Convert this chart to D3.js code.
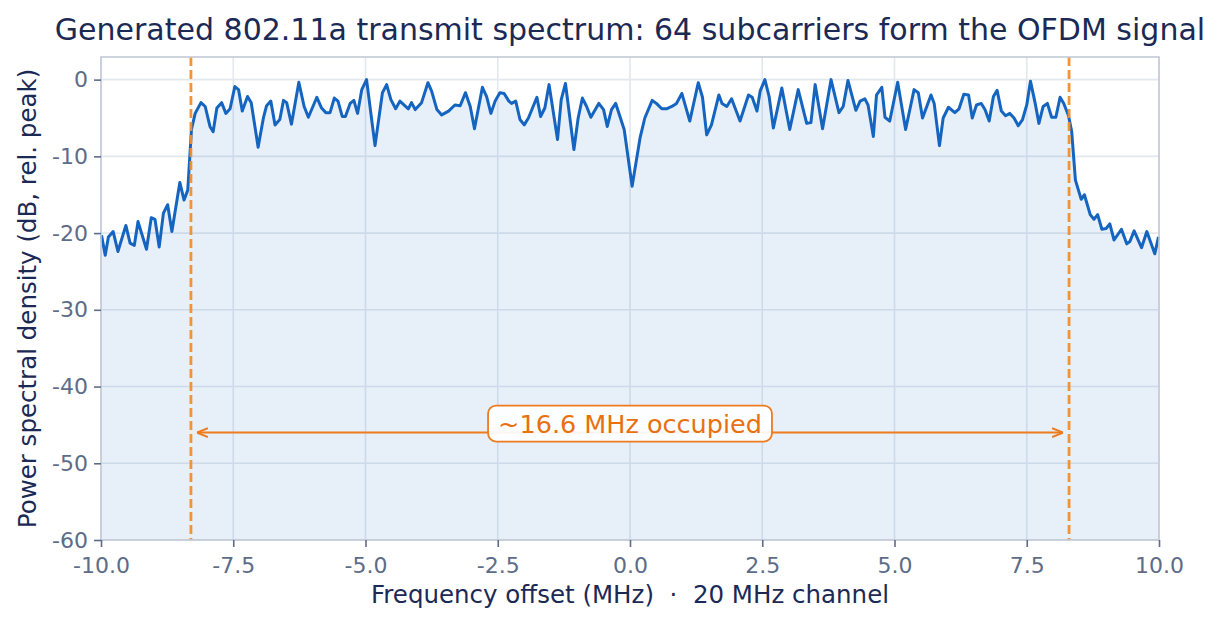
<!DOCTYPE html>
<html><head><meta charset="utf-8">
<script src="https://cdn.jsdelivr.net/npm/d3@7"></script>
<style>
html,body{margin:0;padding:0;background:#fff;}
svg{display:block;font-family:"DejaVu Sans",sans-serif;}
text{white-space:pre;}
</style></head>
<body><svg id="c" width="1222" height="624"></svg>
<script>
const freqMHz = [-9.99,-9.92,-9.86,-9.77,-9.68,-9.53,-9.45,-9.37,-9.30,-9.14,-9.05,-8.98,-8.90,-8.82,-8.74,-8.66,-8.51,-8.43,-8.36,-8.29,-8.22,-8.11,-8.03,-7.94,-7.88,-7.81,-7.72,-7.64,-7.56,-7.47,-7.40,-7.33,-7.23,-7.16,-7.03,-6.93,-6.87,-6.79,-6.71,-6.62,-6.55,-6.49,-6.40,-6.26,-6.16,-6.08,-5.92,-5.83,-5.75,-5.67,-5.59,-5.52,-5.44,-5.38,-5.29,-5.22,-5.15,-5.07,-4.98,-4.82,-4.68,-4.60,-4.52,-4.43,-4.35,-4.19,-4.13,-4.06,-3.94,-3.82,-3.75,-3.65,-3.56,-3.43,-3.31,-3.21,-3.11,-3.02,-2.94,-2.79,-2.71,-2.63,-2.55,-2.46,-2.38,-2.29,-2.24,-2.16,-2.08,-2.00,-1.92,-1.76,-1.69,-1.61,-1.53,-1.37,-1.30,-1.22,-1.06,-0.98,-0.90,-0.82,-0.74,-0.59,-0.50,-0.43,-0.35,-0.27,-0.11,0.04,0.19,0.28,0.42,0.50,0.60,0.69,0.79,0.88,0.98,1.13,1.29,1.37,1.45,1.54,1.68,1.74,1.83,1.92,2.08,2.24,2.31,2.40,2.46,2.55,2.63,2.71,2.87,3.02,3.18,3.34,3.42,3.50,3.64,3.80,3.95,4.03,4.12,4.27,4.35,4.44,4.50,4.60,4.66,4.76,4.82,4.91,5.06,5.21,5.37,5.45,5.53,5.69,5.75,5.85,5.92,6.02,6.14,6.22,6.31,6.40,6.47,6.55,6.64,6.71,6.79,6.87,6.94,7.02,7.10,7.18,7.26,7.34,7.42,7.50,7.57,7.66,7.73,7.81,7.89,7.97,8.05,8.13,8.20,8.29,8.35,8.42,8.53,8.59,8.70,8.77,8.84,8.92,9.00,9.07,9.15,9.29,9.39,9.45,9.53,9.67,9.77,9.92,9.99];
const psdDb = [-20.3,-22.9,-20.5,-19.8,-22.4,-19.0,-21.3,-21.6,-18.5,-22.1,-18.0,-18.2,-21.8,-17.4,-16.3,-19.8,-13.4,-15.7,-14.4,-6.5,-4.4,-3.0,-3.5,-6.1,-6.8,-3.7,-3.0,-4.4,-3.8,-0.9,-1.3,-4.1,-2.2,-3.0,-8.8,-5.0,-3.4,-2.8,-5.9,-5.2,-2.7,-3.0,-5.8,-0.35,-3.5,-4.9,-2.3,-3.7,-4.3,-4.3,-2.4,-2.8,-4.8,-4.8,-3.1,-2.7,-4.4,-1.3,0,-8.6,-1.7,-0.65,-2.6,-3.8,-2.8,-3.8,-3.0,-3.9,-3.0,-0.4,-1.5,-3.9,-4.6,-4.1,-3.3,-3.4,-1.7,-3.5,-6.4,-1.0,-2.2,-4.4,-2.8,-1.7,-1.8,-2.8,-3.1,-2.8,-5.2,-5.9,-5.0,-2.3,-4.8,-3.7,-0.65,-7.8,-2.6,-0.5,-9.1,-5.0,-2.4,-3.5,-4.9,-3.1,-3.9,-6.1,-3.9,-3.1,-6.5,-13.9,-7.6,-5.0,-2.7,-3.1,-3.8,-3.8,-3.5,-3.1,-1.8,-5.4,-0.4,-2.3,-7.2,-5.9,-2.0,-3.1,-3.5,-2.5,-5.4,-2.0,-2.3,-4.1,-1.5,0,-2.2,-6.3,-1.1,-6.5,-1.3,-5.7,-5.6,-0.65,-6.4,0,-4.3,-3.5,-0.1,-4.0,-2.8,-2.5,-3.3,-7.4,-2.0,-1.0,-4.9,-5.4,-0.35,-6.5,-1.3,-1.7,-5.0,-2.0,-3.1,-8.6,-5.0,-3.6,-4.3,-3.8,-1.9,-2.0,-5.0,-3.3,-3.1,-3.9,-5.4,-2.2,-1.4,-4.1,-4.7,-4.4,-5.0,-6.0,-5.2,-3.3,-0.2,-3.1,-5.7,-3.5,-3.1,-4.9,-4.9,-2.3,-3.1,-4.7,-6.8,-13.1,-15.6,-15.0,-17.6,-18.2,-17.6,-19.5,-19.4,-18.8,-20.9,-19.5,-21.4,-21.1,-19.7,-21.9,-19.8,-22.7,-20.5];
const xTicks = [-10,-7.5,-5,-2.5,0,2.5,5,7.5,10];
const yTicks = [0,-10,-20,-30,-40,-50,-60];
const bandEdgesMHz = [-8.3, 8.3];
const arrowLevelDb = -46;
const titleText = "Generated 802.11a transmit spectrum: 64 subcarriers form the OFDM signal";
const xLabelText = "Frequency offset (MHz)  \u00b7  20 MHz channel";
const yLabelText = "Power spectral density (dB, rel. peak)";
const annotText = "~16.6 MHz occupied";

const svg = d3.select("#c");
const L = 101, R = 1159, T = 57, B = 540;
const x = d3.scaleLinear().domain([-10,10]).range([L,R]);
const y = d3.scaleLinear().domain([-60,2.95]).range([B,T]);
const data = freqMHz.map((f,i)=>({f, v: psdDb[i]}));
const navy = "#1b2a55", tickCol = "#5d6c88", orange = "#ee7b1e";

// grid
const g = svg.append("g");
g.selectAll(".gx").data(xTicks).join("line")
  .attr("x1",d=>x(d)).attr("x2",d=>x(d)).attr("y1",T).attr("y2",B)
  .attr("stroke","#e3e8ef").attr("stroke-width",1.6);
g.selectAll(".gy").data(yTicks).join("line")
  .attr("x1",L).attr("x2",R).attr("y1",d=>y(d)).attr("y2",d=>y(d))
  .attr("stroke","#e3e8ef").attr("stroke-width",1.6);

// area + line
svg.append("path").datum(data)
  .attr("d", d3.area().x(d=>x(d.f)).y0(y(-60)).y1(d=>y(d.v)))
  .attr("fill","#1565c0").attr("fill-opacity",0.1);
svg.append("path").datum(data)
  .attr("d", d3.line().x(d=>x(d.f)).y(d=>y(d.v)))
  .attr("fill","none").attr("stroke","#1565c0").attr("stroke-width",3).attr("stroke-linejoin","round");

// band edges
svg.selectAll(".edge").data(bandEdgesMHz).join("line")
  .attr("x1",d=>x(d)).attr("x2",d=>x(d)).attr("y1",T).attr("y2",B)
  .attr("stroke","#f28e2b").attr("stroke-opacity",0.95).attr("stroke-width",2.8).attr("stroke-dasharray","9,4");

// arrow
const defs = svg.append("defs");
["s","e"].forEach(k=>{
  defs.append("marker").attr("id","ah"+k).attr("viewBox","0 0 10 10")
    .attr("refX", 10).attr("refY",5).attr("markerWidth",11).attr("markerHeight",11)
    .attr("markerUnits","userSpaceOnUse")
    .attr("orient", k==="s" ? "auto-start-reverse" : "auto")
    .append("path").attr("d","M0,1 L10,5 L0,9").attr("fill","none").attr("stroke",orange).attr("stroke-width",1.8);
});
svg.append("line")
  .attr("x1",x(bandEdgesMHz[0])+6).attr("x2",x(bandEdgesMHz[1])-6)
  .attr("y1",y(arrowLevelDb)).attr("y2",y(arrowLevelDb))
  .attr("stroke",orange).attr("stroke-width",2)
  .attr("marker-start","url(#ahs)").attr("marker-end","url(#ahe)");

// annotation box
const ann = svg.append("g");
const annText = ann.append("text").attr("x",x(0)).attr("y",y(arrowLevelDb)-9)
  .attr("text-anchor","middle").attr("dominant-baseline","central")
  .attr("font-size",25.5).attr("fill","#e8700f").text(annotText);
const bb = annText.node().getBBox();
ann.insert("rect","text").attr("x",bb.x-10).attr("y",bb.y-3).attr("width",bb.width+20).attr("height",bb.height+6)
  .attr("rx",8).attr("fill","#fff").attr("fill-opacity",0.92).attr("stroke",orange).attr("stroke-width",1.8);

// frame
svg.append("rect").attr("x",L).attr("y",T).attr("width",R-L).attr("height",B-T)
  .attr("fill","none").attr("stroke","#c3cad6").attr("stroke-width",1.6);

// axes
const xa = svg.append("g").attr("transform",`translate(0,${B})`)
  .call(d3.axisBottom(x).tickValues(xTicks).tickFormat(d3.format(".1f")).tickSize(7).tickPadding(10));
const ya = svg.append("g").attr("transform",`translate(${L},0)`)
  .call(d3.axisLeft(y).tickValues(yTicks).tickFormat(d3.format("d")).tickSize(7).tickPadding(6));
[xa,ya].forEach(a=>{
  a.select(".domain").remove();
  a.selectAll(".tick line").attr("stroke",tickCol).attr("stroke-width",1.6);
  a.selectAll(".tick text").attr("fill",tickCol).attr("font-size",22).attr("font-family","DejaVu Sans");
});
xa.selectAll(".tick text").text(d=>d3.format(".1f")(d).replace("\u2212","-"));
ya.selectAll(".tick text").text(d=>String(d));

// labels
svg.append("text").attr("x",630).attr("y",40).attr("text-anchor","middle")
  .attr("font-size",30).attr("fill",navy).text(titleText);
svg.append("text").attr("x",630).attr("y",603).attr("text-anchor","middle")
  .attr("font-size",24.5).attr("fill",navy).text(xLabelText);
svg.append("text").attr("transform",`translate(36,${(T+B)/2}) rotate(-90)`).attr("text-anchor","middle")
  .attr("font-size",24.5).attr("fill",navy).text(yLabelText);
</script></body></html>
